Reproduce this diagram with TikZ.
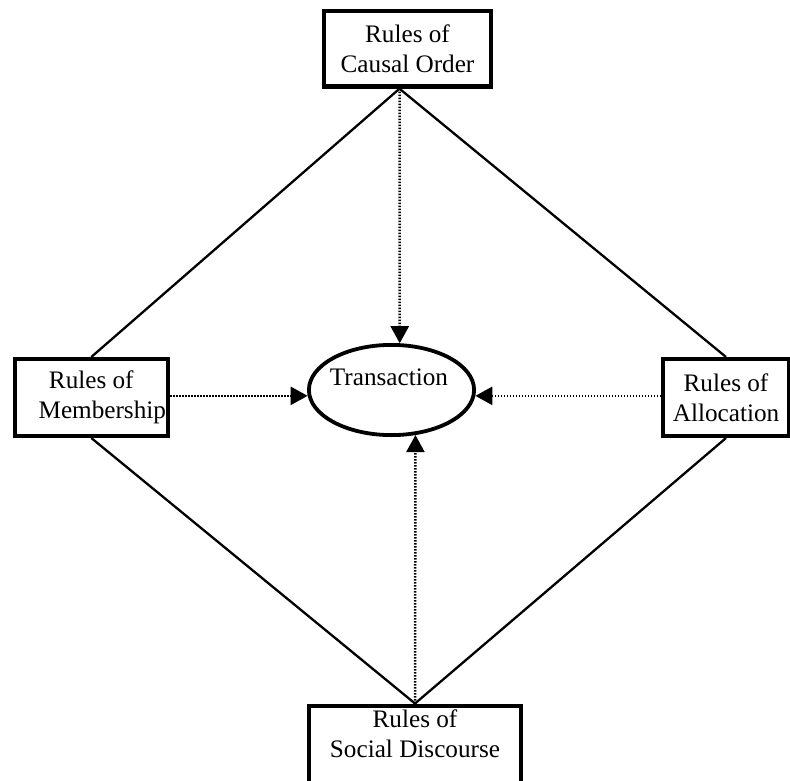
\documentclass[tikz,border=0pt]{standalone}
\usepackage{fontspec}
\setmainfont{Liberation Serif}
\usetikzlibrary{arrows.meta,shapes.geometric}
\begin{document}
\begin{tikzpicture}[x=0.5pt,y=-0.5pt,
  every node/.append style={font=\fontsize{12.6}{15}\selectfont},
  boxline/.style={draw, line width=2.1pt, rectangle, inner sep=0pt},
  box/.style={boxline, align=center},
  conn/.style={line width=1.15pt},
  dotarrow/.style={line width=1.25pt, dash pattern=on 0.75pt off 0.75pt, -{Triangle[length=8.5pt,width=9pt]}},
  ]
\useasboundingbox (0,0) rectangle (790,780);
\fill[white] (0,0) rectangle (790,780);

\node[box, minimum width=83.4pt, minimum height=37.6pt] (co) at (407.5,49) {Rules of\\Causal Order};
\node[box, minimum width=76.6pt, minimum height=38.4pt] (mem) at (91.3,397.5) {Rules of\\\hspace*{11pt}Membership};
\node[box, minimum width=62.9pt, minimum height=38.4pt] (alloc) at (726,397.5) {Rules of\\Allocation};
\node[boxline, anchor=north, inner ysep=2pt] (sd) at (415,703.5) {\parbox[t][50pt][t]{105.9pt}{\centering Rules of\\Social Discourse}};

\node[draw, ellipse, line width=1.9pt, minimum width=82.6pt, minimum height=45.1pt, inner sep=0pt] (tr) at (391.5,390) {};
\node[inner sep=0pt] (trt) at (389,377) {Transaction};

\coordinate (ta) at ([xshift=-4pt]co.south);

\draw[conn] (ta) -- (mem.north);
\draw[conn] (ta) -- (alloc.north);
\draw[conn] (mem.south) -- (sd.north);
\draw[conn] (alloc.south) -- (sd.north);

\draw[dotarrow] (ta) -- (tr.80);
\draw[dotarrow] (mem.east |- tr.184) -- (tr.184);
\draw[dotarrow] (alloc.west |- tr.356) -- (tr.356);
\draw[dotarrow] (sd.north) -- (tr.298);
\end{tikzpicture}
\end{document}
